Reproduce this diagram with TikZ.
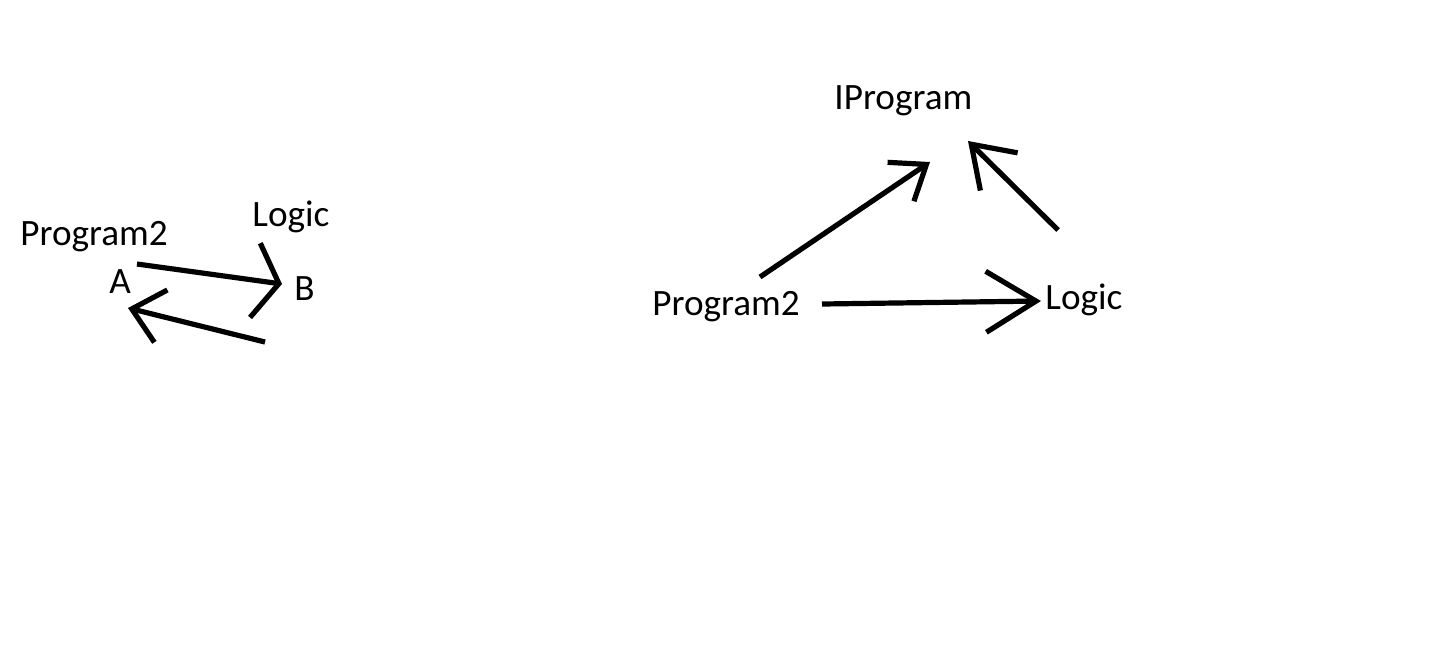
\documentclass[tikz,border=0pt]{standalone}
\usepackage{fontspec}
\setmainfont{Carlito}
\usetikzlibrary{arrows.meta}

\begin{document}
\begin{tikzpicture}[x=0.5pt, y=-0.5pt, font=\fontsize{18.6}{21}\selectfont,
		lbl/.style={anchor=base west, inner sep=0pt},
		stroke/.style 2 args={line width=2.6pt, -{Straight Barb[length=#1, width=#2]}}]
				\useasboundingbox (0,0) rectangle (1446,661);
				\node[lbl] (prog) at (20,245) {Program2};
				\node[lbl] (logic) at (252,226) {Logic};
				\node[lbl] (a) at (109,293) {A};
				\node[lbl] (b) at (294,300) {B};
				\coordinate (ab-s) at (137,264);
				\coordinate (ab-e) at (282,284);
				\coordinate (ba-s) at (265,342);
				\coordinate (ba-e) at (128,308);
				\draw[stroke={12pt}{37.5pt}] (ab-s) -- (ab-e);
				\draw[stroke={15pt}{27pt}] (ba-s) -- (ba-e);
				\node[lbl] (iprog) at (834,109) {IProgram};
				\node[lbl] (prog2) at (652,315) {Program2};
				\node[lbl] (logic2) at (1045,309) {Logic};
				\coordinate (pi-s) at (760,277);
				\coordinate (pi-e) at (930,162);
				\coordinate (li-s) at (1058,230);
				\coordinate (li-e) at (968,141);
				\coordinate (pl-s) at (822,304);
				\coordinate (pl-e) at (1041,301);
				\draw[stroke={15.5pt}{23.5pt}] (pi-s) -- (pi-e);
				\draw[stroke={19.5pt}{26.5pt}] (li-s) -- (li-e);
				\draw[stroke={25pt}{30.5pt}] (pl-s) -- (pl-e);
			\end{tikzpicture}
\end{document}
